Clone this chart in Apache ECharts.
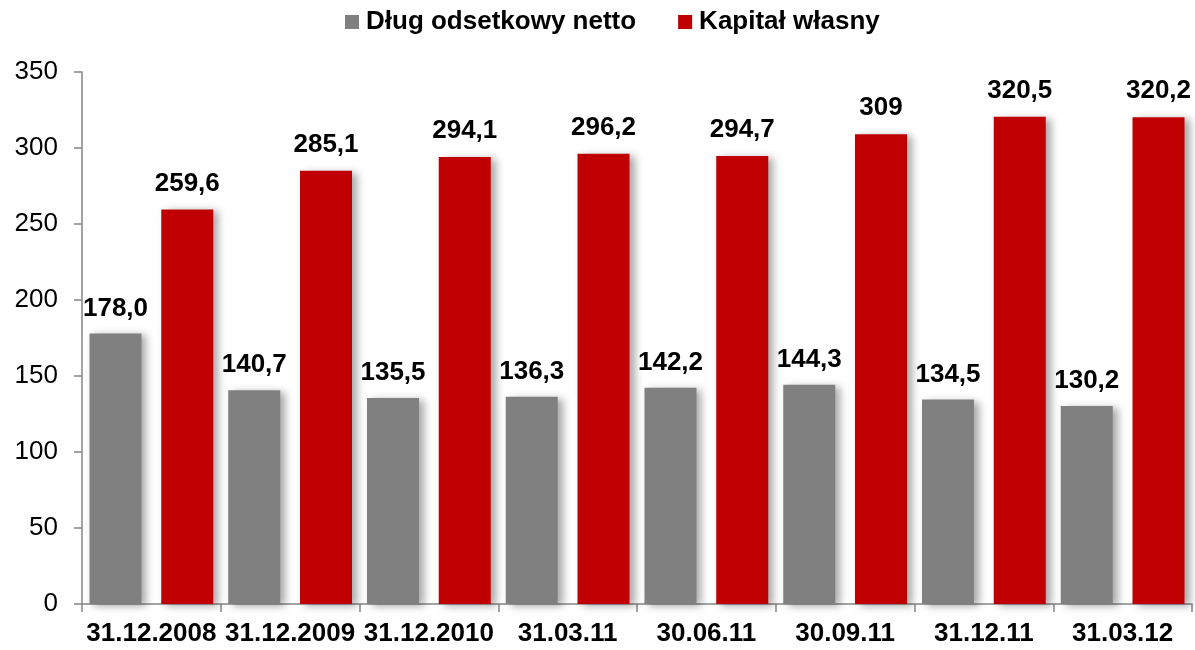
<!DOCTYPE html>
<html><head><meta charset="utf-8">
<script src="https://cdn.jsdelivr.net/npm/echarts@6/dist/echarts.min.js"></script>
<style>html,body{margin:0;padding:0;background:#fff}#c{width:1195px;height:650px}</style>
</head><body><div id="c"></div>
<script>
const categories = ['31.12.2008','31.12.2009','31.12.2010','31.03.11','30.06.11','30.09.11','31.12.11','31.03.12'];
const debtValues = [178.0,140.7,135.5,136.3,142.2,144.3,134.5,130.2];
const equityValues = [259.6,285.1,294.1,296.2,294.7,309,320.5,320.2];
const yTicks = {min:0,max:350,interval:50};

const font = '"Liberation Sans", Arial, sans-serif';
const chart = echarts.init(document.getElementById('c'));
const barShadow = {shadowColor:'rgba(0,0,0,0.35)',shadowBlur:8,shadowOffsetX:5,shadowOffsetY:2};
chart.setOption({
  animation:false,
  legend:{top:4,left:340,itemWidth:14,itemHeight:14,itemGap:42,icon:'rect',
    textStyle:{fontFamily:font,fontSize:26,fontWeight:'bold',color:'#000',padding:[0,0,0,2]}},
  grid:{left:82,right:3,top:72,bottom:46,containLabel:false},
  xAxis:{type:'category',data:categories,
    axisLine:{lineStyle:{color:'#868686',width:1.5}},
    axisTick:{show:true,length:8,lineStyle:{color:'#868686',width:1.5}},
    axisLabel:{fontFamily:font,fontSize:26,fontWeight:'bold',color:'#000',margin:17,interval:0}},
  yAxis:{type:'value',min:yTicks.min,max:yTicks.max,interval:yTicks.interval,
    axisLine:{show:true,lineStyle:{color:'#868686',width:1.5}},
    axisTick:{show:true,length:8,lineStyle:{color:'#868686',width:1.5}},
    splitLine:{show:false},
    axisLabel:{fontFamily:font,fontSize:26,color:'#000',margin:24}},
  series:[
    {name:'Dług odsetkowy netto',type:'bar',data:debtValues,barWidth:52,barGap:'38%',
     itemStyle:Object.assign({color:'#808080'},barShadow),
     label:{show:true,position:'top',distance:12,fontFamily:font,fontSize:26,fontWeight:'bold',color:'#000',
       formatter:p=>p.value.toFixed(1).replace('.',',')}},
    {name:'Kapitał własny',type:'bar',data:equityValues,barWidth:52,barGap:'38%',
     itemStyle:Object.assign({color:'#C00000'},barShadow),
     label:{show:true,position:'top',distance:13,fontFamily:font,fontSize:26,fontWeight:'bold',color:'#000',
       formatter:p=>String(p.value).replace('.',',')}}
  ]
});
</script></body></html>
